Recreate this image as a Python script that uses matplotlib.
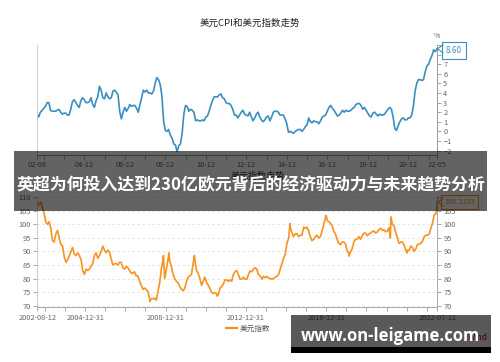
import numpy as np
import pandas as pd
import matplotlib
matplotlib.use('Agg')
import matplotlib.pyplot as plt
import matplotlib.dates as mdates
from matplotlib.patches import Rectangle
from matplotlib.lines import Line2D

plt.rcParams['font.family'] = ['Noto Sans CJK SC', 'DejaVu Sans']

W, H = 500, 362
def fx(x): return x / W
def fy(y): return 1 - y / H

# 美国CPI同比, 月度 2002-08 .. 2022-05
cpi = (
    [1.8, 1.5, 2.0, 2.2, 2.4] +
    [2.6, 3.0, 3.0, 2.2, 2.1, 2.1, 2.1, 2.2, 2.3, 2.0, 1.8, 1.9] +
    [1.9, 1.7, 1.7, 2.3, 3.1, 3.3, 3.0, 2.7, 2.5, 3.2, 3.5, 3.3] +
    [3.0, 3.0, 3.1, 3.5, 2.8, 2.5, 3.2, 3.6, 4.7, 4.3, 3.5, 3.4] +
    [4.0, 3.6, 3.4, 3.5, 4.2, 4.3, 4.1, 3.8, 2.1, 1.3, 2.0, 2.5] +
    [2.1, 2.4, 2.8, 2.6, 2.7, 2.7, 2.4, 2.0, 2.8, 3.5, 4.3, 4.1] +
    [4.3, 4.0, 4.0, 3.9, 4.2, 5.0, 5.6, 5.4, 4.9, 3.7, 1.1, 0.1] +
    [0.0, 0.2, -0.4, -0.7, -1.3, -1.4, -2.1, -1.5, -1.3, -0.2, 1.8, 2.7] +
    [2.6, 2.1, 2.3, 2.2, 2.0, 1.1, 1.2, 1.1, 1.1, 1.2, 1.1, 1.5] +
    [1.6, 2.1, 2.7, 3.2, 3.6, 3.6, 3.6, 3.8, 3.9, 3.5, 3.4, 3.0] +
    [2.9, 2.9, 2.7, 2.3, 1.7, 1.7, 1.4, 1.7, 2.0, 2.2, 1.8, 1.7] +
    [1.6, 2.0, 1.5, 1.1, 1.4, 1.8, 2.0, 1.5, 1.2, 1.0, 1.2, 1.5] +
    [1.6, 1.1, 1.5, 2.0, 2.1, 2.1, 2.0, 1.7, 1.7, 1.7, 1.3, 0.8] +
    [-0.1, 0.0, -0.1, -0.2, 0.0, 0.1, 0.2, 0.2, 0.0, 0.2, 0.5, 0.7] +
    [1.4, 1.0, 0.9, 1.1, 1.0, 1.0, 0.8, 1.1, 1.5, 1.6, 1.7, 2.1] +
    [2.5, 2.7, 2.4, 2.2, 1.9, 1.6, 1.7, 1.9, 2.2, 2.0, 2.2, 2.1] +
    [2.1, 2.2, 2.4, 2.5, 2.8, 2.9, 2.9, 2.7, 2.3, 2.5, 2.2, 1.9] +
    [1.6, 1.5, 1.9, 2.0, 1.8, 1.6, 1.8, 1.7, 1.7, 1.8, 2.1, 2.3] +
    [2.5, 2.3, 1.5, 0.3, 0.1, 0.6, 1.0, 1.3, 1.4, 1.2, 1.2, 1.4] +
    [1.4, 1.7, 2.6, 4.2, 5.0, 5.4, 5.4, 5.3, 5.4, 6.2, 6.8, 7.0] +
    [7.5, 7.9, 8.5, 8.3, 8.6]
)
cpi_tick_idx = [0, 4, 16, 28, 40, 52, 64, 76, 88, 100, 112, 124, 136, 148,
                160, 172, 184, 196, 208, 220, 232, 237]
cpi_tick_lbl = {0: '02-08', 28: '04-12', 52: '06-12', 76: '08-12', 100: '10-12',
                124: '12-12', 148: '14-12', 172: '16-12', 196: '18-12',
                220: '20-12', 237: '22-05'}

# 美元指数
dxy_start, dxy_end = '2002-08-12', '2022-07-11'
dxy_first, dxy_last = 106.8, 108.2193
dxy_monthly = (  # 2002-09 .. 2022-06
    [107.8, 108.2, 106.0, 104.0] +
    [100.8, 100.0, 101.0, 98.5, 94.0, 93.5, 96.5, 97.8, 95.0, 92.5, 92.0, 88.0] +
    [86.0, 87.0, 88.5, 90.0, 91.5, 89.0, 88.5, 89.5, 88.5, 87.0, 83.0, 81.5] +
    [83.5, 83.0, 83.5, 84.5, 85.5, 88.5, 89.5, 87.5, 88.5, 90.0, 92.0, 90.5] +
    [89.5, 90.5, 90.0, 87.5, 85.0, 85.5, 85.5, 85.0, 86.0, 86.0, 84.0, 83.5] +
    [84.5, 84.0, 83.0, 82.0, 82.0, 82.5, 81.0, 81.0, 79.0, 77.5, 76.0, 76.5] +
    [76.0, 75.0, 72.5, 72.5, 72.5, 72.8, 72.0, 75.5, 78.5, 83.5, 87.0, 80.0] +
    [83.5, 87.5, 86.5, 84.5, 81.5, 80.0, 79.0, 78.5, 77.0, 76.0, 75.5, 76.5] +
    [79.0, 80.5, 81.0, 81.5, 85.5, 87.0, 83.0, 82.0, 80.0, 77.5, 79.0, 80.5] +
    [78.5, 77.5, 76.5, 75.0, 74.5, 74.8, 74.5, 74.0, 76.5, 77.0, 78.0, 79.5] +
    [79.5, 79.0, 79.5, 79.0, 81.5, 82.5, 83.0, 81.5, 79.8, 79.8, 80.5, 79.8] +
    [79.8, 81.5, 82.8, 82.5, 83.5, 84.0, 83.5, 81.5, 81.0, 79.8, 80.8, 80.3] +
    [80.8, 80.2, 80.0, 79.8, 80.0, 80.5, 80.8, 81.5, 83.5, 85.5, 87.5, 89.0] +
    [93.0, 95.0, 99.0, 97.0, 95.5, 96.5, 96.5, 95.5, 96.0, 96.0, 99.0, 98.5] +
    [99.0, 97.5, 95.5, 94.0, 94.5, 95.5, 96.0, 95.0, 95.5, 97.5, 100.0, 102.5] +
    [101.5, 101.0, 100.5, 99.5, 97.5, 96.5, 94.5, 93.0, 92.5, 93.5, 93.5, 92.8] +
    [90.0, 89.5, 89.8, 91.0, 93.5, 94.5, 94.5, 95.5, 94.5, 95.8, 96.8, 96.8] +
    [95.8, 96.5, 96.8, 97.3, 97.6, 96.8, 97.2, 98.0, 98.6, 97.8, 98.0, 97.3] +
    [97.5, 98.8, 99.5, 100.0, 99.5, 97.0, 95.0, 93.0, 93.5, 93.5, 92.3, 90.5] +
    [90.5, 90.5, 92.0, 91.5, 90.0, 91.0, 92.5, 92.8, 93.0, 93.8, 95.5, 96.0] +
    [96.0, 96.5, 98.5, 100.5, 103.5, 104.0]
)
dxy_extra_dates = ['2008-03-17', '2008-11-21', '2009-03-04', '2010-06-07',
                   '2011-07-27', '2015-03-13', '2016-12-20', '2017-01-03',
                   '2018-02-15', '2020-03-09', '2020-03-19', '2021-01-06',
                   '2022-06-28']
dxy_extra_vals = [71.5, 88.5, 89.5, 88.5, 73.5, 100.3, 103.3, 103.0,
                  88.3, 95.0, 102.8, 89.4, 105.5]
dxy_year_ticks = ['2002-08-12'] + ['%d-12-31' % y for y in range(2002, 2022)] + ['2022-07-11']
dxy_tick_lbl = ['2002-08-12', '2004-12-31', '2008-12-31', '2012-12-31',
                '2016-12-31', '2022-07-11']

blue = '#3b8ec2'
orange = '#f7931e'
gray_txt = '#666666'

m_dates = pd.date_range('2002-09-01', '2022-06-01', freq='MS') + pd.Timedelta(days=14)
dxy = pd.Series([dxy_first] + dxy_monthly + [dxy_last],
                index=pd.to_datetime([dxy_start] + list(m_dates) + [dxy_end]))
dxy = pd.concat([dxy, pd.Series(dxy_extra_vals, index=pd.to_datetime(dxy_extra_dates))]).sort_index()

fig = plt.figure(figsize=(5, 3.62), dpi=100)

# ---- 上图 CPI ----
ax1 = fig.add_axes([fx(37), fy(155), 400 / W, 110 / H])
ax1.plot(np.arange(len(cpi)), cpi, color=blue, lw=1.2)
ax1.set_xlim(0, len(cpi) - 1)
ax1.set_ylim(-2.46, 9)
ax1.yaxis.tick_right()
ax1.set_yticks(range(-2, 10))
ax1.set_xticks(cpi_tick_idx, [cpi_tick_lbl.get(i, '') for i in cpi_tick_idx])
ax1.spines['top'].set_visible(False)
ax1.spines['left'].set_color('#cccccc')
ax1.spines['right'].set_color('#999999')
ax1.spines['bottom'].set_color('#999999')
for s in ax1.spines.values():
    s.set_linewidth(0.7)
ax1.tick_params(labelsize=5.3, colors=gray_txt, length=3, width=0.6, pad=1.5)
ax1.tick_params(axis='both', color='#999999')
fig.text(fx(437), fy(36), '%', fontsize=5, color=gray_txt, ha='center', va='center')

p = ax1.transData.transform((len(cpi) - 1, cpi[-1]))
ax1.annotate('%.2f' % cpi[-1], xy=(len(cpi) - 1, cpi[-1]), xytext=(17, -1.5),
             textcoords='offset pixels', ha='center', va='center', fontsize=5.8,
             color=blue, annotation_clip=False, zorder=5,
             bbox=dict(boxstyle='square,pad=0.5', fc='white', ec=blue, lw=0.8))
fig.add_artist(Line2D([p[0] + 6, p[0] + 0.5, p[0] + 6], [p[1] + 4, p[1], p[1] - 4],
                      transform=None, color=blue, lw=0.8, zorder=6))

# ---- 下图 美元指数 ----
ax2 = fig.add_axes([fx(37.3), fy(307.3), 400 / W, 110 / H])
ax2.plot(dxy.index, dxy.values, color=orange, lw=1.2)
ax2.set_xlim(pd.Timestamp(dxy_start), pd.Timestamp(dxy_end))
ax2.set_ylim(69.4, 110)
ax2.set_yticks(range(70, 111, 5))
ax2.yaxis.grid(True, ls=(0, (3, 3)), color='#e2e2e2', lw=0.6)
ax2.set_axisbelow(True)
ax2.set_xticks(pd.to_datetime(dxy_year_ticks),
               [t if t in dxy_tick_lbl else '' for t in dxy_year_ticks])
ax2.tick_params(labelright=True, right=True)
ax2.tick_params(labelsize=5.3, colors=gray_txt, length=3, width=0.6, pad=1.5)
ax2.tick_params(axis='both', color='#999999')
ax2.spines['top'].set_visible(False)
ax2.spines['left'].set_color('#cccccc')
ax2.spines['right'].set_color('#aaaaaa')
ax2.spines['bottom'].set_color('#aaaaaa')
for s in ax2.spines.values():
    s.set_linewidth(0.7)

q = ax2.transData.transform((mdates.date2num(pd.Timestamp(dxy_end)), dxy_last))
ax2.annotate('%.4f' % dxy_last, xy=(pd.Timestamp(dxy_end), dxy_last), xytext=(22, 0),
             textcoords='offset pixels', ha='center', va='center', fontsize=5.3,
             color=orange, annotation_clip=False, zorder=5,
             bbox=dict(boxstyle='square,pad=0.4', fc='white', ec=orange, lw=0.8))
fig.add_artist(Line2D([q[0] + 6, q[0] + 0.5, q[0] + 6], [q[1] + 4, q[1], q[1] - 4],
                      transform=None, color=orange, lw=0.8, zorder=6))

fig.legend([Line2D([], [], color=orange, lw=1.6)], ['美元指数'], loc='center',
           bbox_to_anchor=(fx(248), fy(329)), frameon=False, fontsize=5.5,
           handlelength=1.4, handletextpad=0.4, labelcolor='#555555')

# 标题
fig.text(fx(250), fy(23), '美元CPI和美元指数走势', fontsize=6.8, color='#222222',
         ha='center', va='center')
fig.text(fx(258), fy(176), '美元指数走势', fontsize=6.5, color='#333333',
         ha='center', va='center')
fig.text(fx(478), fy(337), 'Wind', fontsize=6, color='#cc0000', ha='center', va='center')

# 横幅
fig.add_artist(Rectangle((fx(14), fy(211)), fx(487) - fx(14), 60 / H,
                         transform=fig.transFigure, fc='black', alpha=0.61,
                         lw=0, zorder=10))
fig.text(fx(250.5), fy(185), '英超为何投入达到230亿欧元背后的经济驱动力与未来趋势分析',
         fontsize=12.2, fontweight='bold', color='white', ha='center',
         va='center', zorder=11)

# 水印
fig.add_artist(Rectangle((fx(291), fy(347.3)), 200 / W, 32.3 / H,
                         transform=fig.transFigure, fc='black', alpha=0.65,
                         lw=0, zorder=10))
fig.add_artist(Rectangle((fx(291), fy(352.7)), 200 / W, 5.4 / H,
                         transform=fig.transFigure, fc='black', lw=0, zorder=10))
fig.text(fx(390.5), fy(336), 'www.on-leigame.com', fontsize=12, fontweight='bold',
         family='Open Sans', color='white', ha='center', va='center', zorder=11)

fig.savefig('out.png', dpi=100)
